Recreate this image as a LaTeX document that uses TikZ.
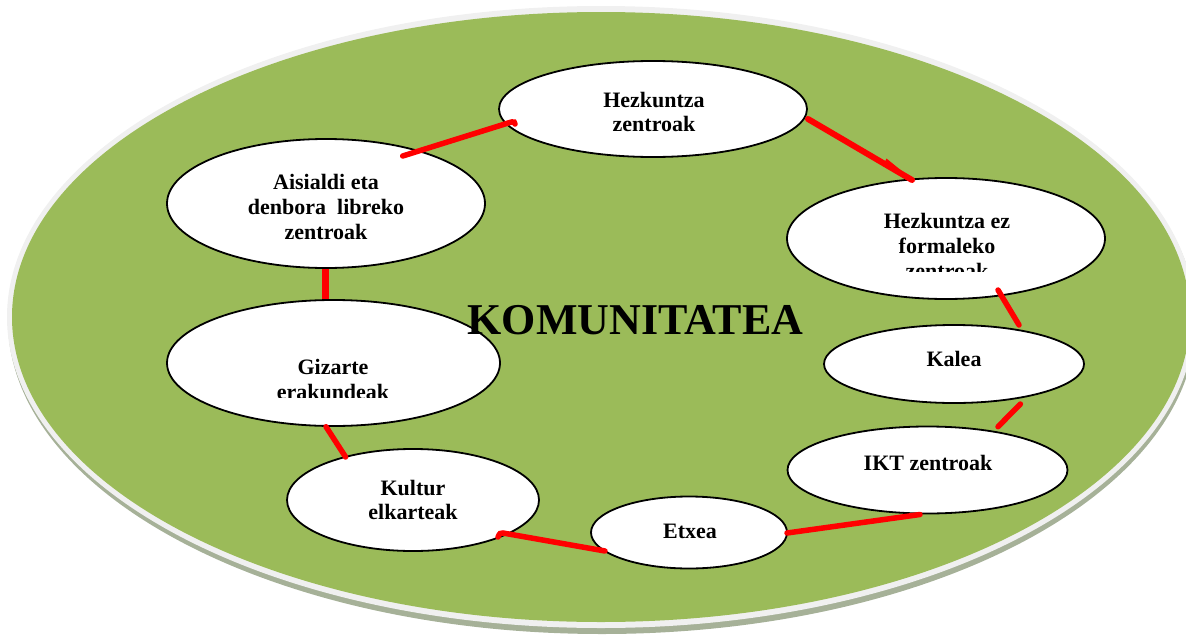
\documentclass[tikz,border=0pt]{standalone}
\usepackage{fontspec}
\setmainfont{Liberation Serif}
\usetikzlibrary{shapes.geometric}
\definecolor{komgreen}{HTML}{9BBB59}
\definecolor{rimgrey}{HTML}{F0F0F0}
\definecolor{shadowgrey}{HTML}{A6B198}
\definecolor{linkred}{HTML}{FF0000}
\tikzset{
  bubble/.style={ellipse, draw=black, line width=1.8pt, fill=white, inner sep=0pt, outer sep=0pt},
  lbl/.style={font=\bfseries\fontsize{22}{25}\selectfont, anchor=base, inner sep=0pt},
  bigtitle/.style={font=\bfseries\fontsize{44}{50}\selectfont, anchor=base, inner sep=0pt},
  link/.style={draw=linkred, line width=5.5pt, line cap=round},
}
\begin{document}
\begin{tikzpicture}[x=1pt,y=-1pt]
\useasboundingbox (0,0) rectangle (1186,637);
\clip (0,0) rectangle (1186,637);
% community ellipse with rim and shadow
\fill[shadowgrey] (602,321) ellipse [x radius=594, y radius=313];
\fill[rimgrey] (601,317) ellipse [x radius=594, y radius=311];
\fill[komgreen] (601,317) ellipse [x radius=589, y radius=305];
% bubbles
\node[bubble, minimum width=308, minimum height=96] (hez) at (653,109) {};
\node[bubble, minimum width=318, minimum height=121] (hezez) at (946,238.5) {};
\node[bubble, minimum width=260, minimum height=78] (kalea) at (954,364) {};
\node[bubble, minimum width=280, minimum height=87] (ikt) at (927.5,470) {};
\node[bubble, minimum width=196, minimum height=72] (etxea) at (689,532.5) {};
\node[bubble, minimum width=252, minimum height=102] (kultur) at (413,500) {};
\node[bubble, minimum width=333, minimum height=126] (gizarte) at (333.5,363) {};
\node[bubble, minimum width=318, minimum height=129] (aisi) at (326,203.5) {};
% labels
\node[lbl] (hezA) at (654,107) {Hezkuntza};
\node[lbl] (hezB) at (654,131) {zentroak};
\node[lbl] (hezezA) at (947,228) {Hezkuntza ez};
\node[lbl] (hezezB) at (947,253) {formaleko};
\begin{scope}
  \clip (780,255) rectangle (1110,271);
  \node[lbl] (hezezC) at (947,278) {zentroak};
\end{scope}
\node[lbl] (kaleaA) at (954,366.7) {Kalea};
\node[lbl] (iktA) at (928,470.7) {IKT zentroak};
\node[lbl] (etxeaA) at (690,538) {Etxea};
\node[lbl] (kulturA) at (413,495) {Kultur};
\node[lbl] (kulturB) at (413,519) {elkarteak};
\node[lbl] (gizarteA) at (333,374) {Gizarte};
\begin{scope}
  \clip (170,380) rectangle (500,397);
  \node[lbl] (gizarteB) at (333,399) {erakundeak};
\end{scope}
\node[lbl] (aisiA) at (326,189) {Aisialdi eta};
\node[lbl] (aisiB) at (326,214) {denbora~ libreko};
\node[lbl] (aisiC) at (326,239) {zentroak};
% connectors
\draw[link] ([shift={(76.7,-47.5)}]aisi.center) -- ([shift={(-148,15)}]hez.center)
  .. controls ([shift={(-143,13.5)}]hez.center) and ([shift={(-138,11)}]hez.center) .. ([shift={(-138,15)}]hez.center);
\draw[link, line width=6pt] ([shift={(155,10)}]hez.center) -- ([shift={(-34,-58.5)}]hezez.center);
\fill[linkred] ([shift={(-62,-74.5)}]hezez.center) -- ([shift={(-59.5,-80)}]hezez.center) -- ([shift={(-43,-66.5)}]hezez.center) -- cycle;
\draw[link] ([shift={(52,51.5)}]hezez.center) -- ([shift={(65,-39)}]kalea.center);
\draw[link] ([shift={(66.4,40)}]kalea.center) -- ([shift={(70.5,-43.3)}]ikt.center);
\draw[link] ([shift={(98,0.5)}]etxea.center) -- ([shift={(-7.5,44.5)}]ikt.center);
\draw[link] ([shift={(-84,18.5)}]etxea.center) -- ([shift={(90,33)}]kultur.center)
  .. controls ([shift={(87,33)}]kultur.center) .. ([shift={(85,37)}]kultur.center);
\draw[link] ([shift={(-7.5,63.7)}]gizarte.center) -- ([shift={(-67.4,-43)}]kultur.center);
\draw[link, line width=7pt, line cap=butt] ([shift={(-1,65.5)}]aisi.center) -- ([shift={(-8.5,-64)}]gizarte.center);
% title
\node[bigtitle] (title) at (635.5,334) {KOMUNITATEA};
\end{tikzpicture}
\end{document}
